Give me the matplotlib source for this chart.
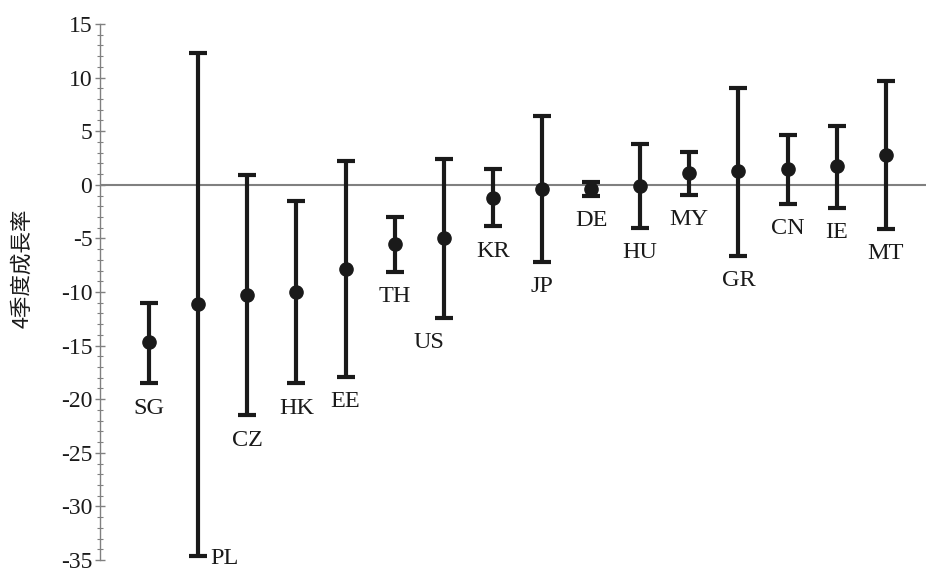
import matplotlib
matplotlib.use("Agg")
import matplotlib.pyplot as plt
import numpy as np

plt.rcParams['axes.unicode_minus'] = False

countries = ["SG", "PL", "CZ", "HK", "EE", "TH", "US", "KR", "JP", "DE",
             "HU", "MY", "GR", "CN", "IE", "MT"]
center = [-14.7, -11.1, -10.3, -10.0, -7.9, -5.5, -5.0, -1.2, -0.4, -0.35,
          -0.1, 1.1, 1.25, 1.45, 1.8, 2.8]
upper = [-11.0, 12.3, 0.9, -1.5, 2.2, -3.0, 2.4, 1.5, 6.4, 0.25,
         3.85, 3.1, 9.0, 4.65, 5.5, 9.7]
lower = [-18.5, -34.6, -21.5, -18.5, -17.9, -8.1, -12.4, -3.85, -7.2, -1.0,
         -4.0, -0.95, -6.6, -1.75, -2.15, -4.1]

yticks = list(range(-35, 20, 5))
ylabel = "4季度成長率"

x = np.arange(len(countries))
center_a = np.array(center)
yerr = np.vstack([center_a - np.array(lower), np.array(upper) - center_a])

fig = plt.figure(figsize=(9.26, 5.73), dpi=100)
ax = fig.add_axes([100 / 926, 13 / 573, 826 / 926, 536 / 573])

ink = "#1a1a1a"
ax.axhline(0, color="#808080", lw=1.5, zorder=1)
ax.errorbar(x, center_a, yerr=yerr, fmt="o", color=ink, ecolor=ink,
            elinewidth=3.0, capsize=6.3, capthick=3.0, markersize=9.5, zorder=3)

serif = ["Liberation Serif", "DejaVu Serif"]
# label placement offsets (points) relative to the lower bound
special = {"PL": (9, -2, "left", "center"), "US": (-11, -18, "center", "center")}
for xi, c, lo in zip(x, countries, lower):
    dx, dy, ha, va = special.get(c, (0, -18, "center", "center"))
    ax.annotate(c, (xi, lo), xytext=(dx, dy), textcoords="offset points",
                ha=ha, va=va, fontsize=17.5, family=serif, color=ink)

ax.set_xlim(-1.0, 15.82)
ax.set_ylim(-35, 15)
ax.set_yticks(yticks)
ax.set_yticklabels([str(t) for t in yticks], family=serif, fontsize=17, color=ink)
ax.yaxis.set_minor_locator(matplotlib.ticker.MultipleLocator(1))
ax.tick_params(axis="y", which="major", direction="inout", length=7, width=1.0,
               color="#808080", pad=2)
ax.tick_params(axis="y", which="minor", direction="inout", length=4, width=0.8,
               color="#808080")
ax.set_xticks([])
for s in ["top", "right", "bottom"]:
    ax.spines[s].set_visible(False)
ax.spines["left"].set_color("#808080")
ax.spines["left"].set_linewidth(1.0)

fig.text(22 / 926, 1 - 268 / 573, ylabel, rotation=90, ha="center", va="center",
         fontsize=15.5, family=["Noto Sans CJK TC", "Liberation Serif"], color=ink)

fig.savefig("out.png", dpi=100)
